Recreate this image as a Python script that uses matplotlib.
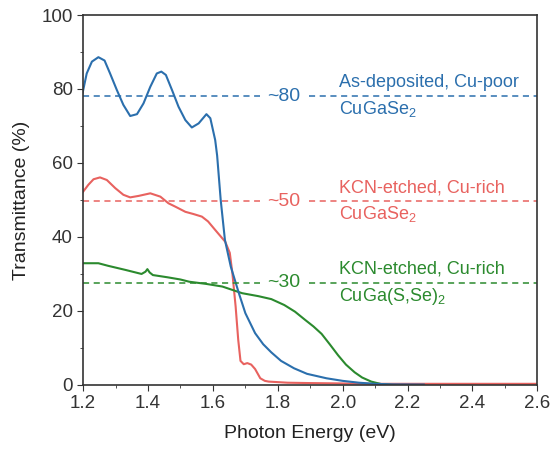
import matplotlib.pyplot as plt

plt.rcParams['font.family'] = ['Liberation Sans', 'DejaVu Sans']
plt.rcParams['mathtext.fontset'] = 'custom'
plt.rcParams['mathtext.rm'] = 'Liberation Sans'

# Transmittance curves (photon energy in eV, T in %)
blue_e = [1.198, 1.211, 1.227, 1.247, 1.266, 1.283, 1.304, 1.324, 1.345, 1.366,
          1.386, 1.407, 1.427, 1.441, 1.455, 1.474, 1.494, 1.515, 1.535, 1.556,
          1.580, 1.592, 1.607, 1.613, 1.624, 1.637, 1.655, 1.68, 1.70, 1.73,
          1.755, 1.78, 1.81, 1.85, 1.89, 1.95, 2.0, 2.05, 2.1, 2.15, 2.25]
blue_t = [78.8, 84.2, 87.4, 88.6, 87.7, 84.2, 79.7, 75.7, 72.7, 73.2,
          76.1, 80.6, 84.2, 84.7, 83.8, 79.7, 75.2, 71.6, 69.6, 70.7,
          73.2, 72.1, 66.2, 62.0, 50.0, 39.2, 32.0, 24.8, 19.4, 14.0,
          11.0, 8.8, 6.5, 4.5, 3.0, 1.8, 1.1, 0.6, 0.3, 0.15, 0.1]

red_e = [1.198, 1.216, 1.232, 1.252, 1.273, 1.299, 1.324, 1.345, 1.371, 1.407,
         1.438, 1.463, 1.484, 1.515, 1.540, 1.566, 1.585, 1.607, 1.638, 1.652,
         1.660, 1.670, 1.678, 1.685, 1.695, 1.706, 1.718, 1.730, 1.746, 1.760,
         1.772, 1.83, 1.90, 2.0, 2.1, 2.3, 2.5, 2.6]
red_t = [52.0, 54.1, 55.6, 56.1, 55.4, 53.2, 51.4, 50.7, 51.1, 51.8,
         50.9, 49.1, 48.2, 46.8, 46.2, 45.5, 44.2, 41.9, 38.7, 35.7,
         30.2, 21.2, 12.2, 6.5, 5.6, 5.9, 5.5, 4.3, 1.8, 1.1,
         0.9, 0.6, 0.5, 0.4, 0.3, 0.3, 0.3, 0.3]

green_e = [1.20, 1.247, 1.277, 1.33, 1.38, 1.392, 1.398, 1.405, 1.415, 1.46, 1.50,
           1.527, 1.58, 1.629, 1.69, 1.74, 1.78, 1.82, 1.853, 1.884, 1.91, 1.935,
           1.96, 1.986, 2.01, 2.037, 2.06, 2.088, 2.12, 2.15]
green_t = [32.9, 32.9, 32.2, 31.1, 30.0, 30.6, 31.3, 30.4, 29.7, 29.1, 28.5,
           27.9, 27.3, 26.6, 24.8, 24.0, 23.2, 21.6, 19.8, 17.6, 15.8, 13.8,
           11.0, 8.0, 5.5, 3.4, 2.0, 0.9, 0.2, 0.0]

levels = [78, 49.6, 27.6]
level_text = ['~80', '~50', '~30']
sample_top = ['As-deposited, Cu-poor', 'KCN-etched, Cu-rich', 'KCN-etched, Cu-rich']
sample_bottom = ['CuGaSe$_2$', 'CuGaSe$_2$', 'CuGa(S,Se)$_2$']

c_blue = '#2b6fad'
c_red = '#e8625f'
c_green = '#2b8a2e'
colors = [c_blue, c_red, c_green]

fig = plt.figure(figsize=(5.58, 4.55), dpi=100)
ax = fig.add_axes([0.149, 0.154, 0.814, 0.813])

ax.plot(red_e, red_t, color=c_red, lw=1.5)
ax.plot(green_e, green_t, color=c_green, lw=1.5)
ax.plot(blue_e, blue_t, color=c_blue, lw=1.5)

for lev, txt, top, bot, col in zip(levels, level_text, sample_top, sample_bottom, colors):
    # dashed guide broken around the "~xx" label
    ax.plot([1.2, 1.745], [lev, lev], color=col, lw=1.1, dashes=(4, 3))
    ax.plot([1.895, 2.6], [lev, lev], color=col, lw=1.1, dashes=(4, 3))
    ax.text(1.817, lev, txt, color=col, fontsize=14, ha='center', va='center')
    ax.text(1.99, lev + 1.4, top, color=col, fontsize=13, ha='left', va='bottom')
    ax.text(1.99, lev - 0.8, bot, color=col, fontsize=13, ha='left', va='top')

ax.set_xlim(1.2, 2.6)
ax.set_ylim(0, 100)
ax.set_xticks([1.2, 1.4, 1.6, 1.8, 2.0, 2.2, 2.4, 2.6])
ax.set_xticks([1.3, 1.5, 1.7, 1.9, 2.1, 2.3, 2.5], minor=True)
ax.set_yticks([0, 20, 40, 60, 80, 100])
ax.set_yticks([10, 30, 50, 70, 90], minor=True)
ax.set_xticklabels(['1.2', '1.4', '1.6', '1.8', '2.0', '2.2', '2.4', '2.6'])
ax.tick_params(which='major', direction='out', length=4, labelsize=13.5, colors='#333333')
ax.tick_params(which='minor', direction='out', length=2.5, colors='#333333')
for s in ax.spines.values():
    s.set_color('#333333')
    s.set_linewidth(1.2)

ax.set_xlabel('Photon Energy (eV)', fontsize=14, color='#222222', labelpad=9)
ax.set_ylabel('Transmittance (%)', fontsize=14, color='#222222', labelpad=8)

fig.savefig('out.png', dpi=100)
